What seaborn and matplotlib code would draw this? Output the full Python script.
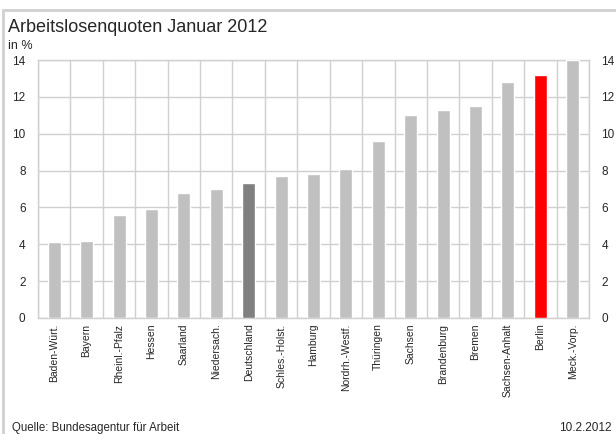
import matplotlib
matplotlib.use("Agg")
import matplotlib.pyplot as plt
import seaborn as sns
import pandas as pd
from matplotlib.patches import Rectangle

# Data
laender = ["Baden-Würt.", "Bayern", "Rheinl.-Pfalz", "Hessen", "Saarland",
           "Niedersach.", "Deutschland", "Schles.-Holst.", "Hamburg",
           "Nordrh.-Westf.", "Thüringen", "Sachsen", "Brandenburg", "Bremen",
           "Sachsen-Anhalt", "Berlin", "Meck.-Vorp."]
quote = [4.1, 4.2, 5.6, 5.9, 6.8, 7.0, 7.3, 7.7, 7.8, 8.1, 9.6, 11.0,
         11.3, 11.5, 12.8, 13.2, 14.0]
y_ticks = [0, 2, 4, 6, 8, 10, 12, 14]

colors = ["#808080" if l == "Deutschland" else "#ff0000" if l == "Berlin" else "#c0c0c0"
          for l in laender]
df = pd.DataFrame({"land": laender, "quote": quote})

sns.set_style("white")
plt.rcParams["font.family"] = ["Liberation Sans", "DejaVu Sans"]

fig = plt.figure(figsize=(6.16, 4.34), dpi=100)
W, H = 616, 434
ax = fig.add_axes([38 / W, (H - 318) / H, (589 - 38) / W, (318 - 60) / H])

sns.barplot(data=df, x="land", y="quote", hue="land", palette=colors,
            width=0.4, legend=False, ax=ax, saturation=1, zorder=3)

grid_c = "#d0d0d0"
ax.set_ylim(0, 14)
ax.set_xlim(-0.5, len(laender) - 0.5)
ax.set_yticks(y_ticks)
ax.set_xticks(range(len(laender)))
ax.set_xticks([i + 0.5 for i in range(-1, len(laender))], minor=True)
ax.set_xticklabels(laender, rotation=90, fontsize=7.5)
ax.tick_params(axis="y", labelsize=8.5, length=0, pad=9, labelright=True, right=False)
ax.tick_params(axis="x", which="both", length=0, pad=4)
ax.grid(axis="y", color=grid_c, linewidth=1, zorder=0)
ax.grid(axis="x", which="minor", color=grid_c, linewidth=1, zorder=0)
ax.grid(axis="x", which="major", visible=False)
for s in ax.spines.values():
    s.set_color(grid_c)
    s.set_linewidth(1)
ax.set_xlabel("")
ax.set_ylabel("")

# frame around the graphic
fig.patches.append(Rectangle((3 / W, -0.05), 1.1, 1 - 10 / H + 0.05, transform=fig.transFigure,
                             fill=False, edgecolor="#d0d0d0", linewidth=2))

fig.text(8 / W, 1 - 32 / H, "Arbeitslosenquoten Januar 2012", fontsize=13, va="baseline")
fig.text(8 / W, 1 - 49 / H, "in %", fontsize=9, va="baseline")
fig.text(12 / W, 1 - 431 / H, "Quelle: Bundesagentur für Arbeit", fontsize=8.3, va="baseline")
fig.text(612 / W, 1 - 431 / H, "10.2.2012", fontsize=8.5, va="baseline", ha="right")

fig.savefig("out.png", dpi=100)
